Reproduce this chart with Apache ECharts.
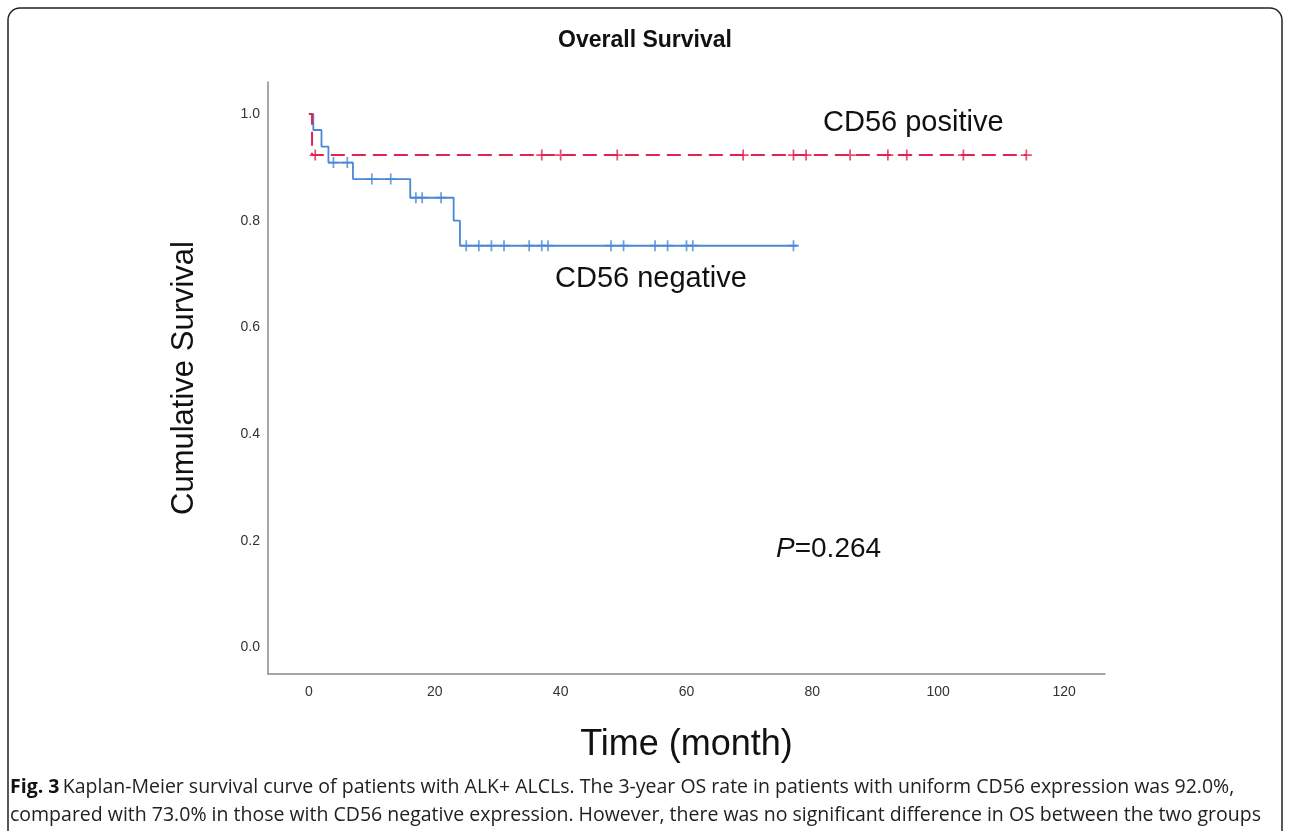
<!DOCTYPE html>
<html>
<head>
<meta charset="utf-8">
<script src="https://cdn.jsdelivr.net/npm/echarts@6/dist/echarts.min.js"></script>
<style>
html,body{margin:0;padding:0;background:#fff;}
#chart{width:1290px;height:831px;}
</style>
</head>
<body>
<div id="chart"></div>
<script>
// ---- data ----
const xTicks = [0, 20, 40, 60, 80, 100, 120];
const yTicks = [0.0, 0.2, 0.4, 0.6, 0.8, 1.0];

// CD56 negative (blue): KM step points (time in months, cumulative survival)
const negTimes = [0, 0.7, 2.0, 3.1, 7.0, 16.1, 23.0, 24.0, 77.6];
const negSurv  = [1.0, 0.970, 0.939, 0.909, 0.878, 0.843, 0.800, 0.753, 0.753];
const negCensor = [3.9, 6.1, 10, 13, 17, 18, 21, 25, 27, 29, 31, 35, 37, 38, 48, 50, 55, 57, 60, 61, 77];

// CD56 positive (red)
const posTimes = [0, 0.5, 114];
const posSurv  = [1.0, 0.923, 0.923];
const posCensor = [1, 37, 40, 49, 69, 77, 79, 86, 92, 95, 104, 114];

const pValue = '0.264';

// ---- build series ----
function pairs(t, s) { return t.map((v, i) => [v, s[i]]); }
function survAt(t, times, surv) {
  let v = surv[0];
  for (let i = 0; i < times.length; i++) { if (times[i] <= t) v = surv[i]; }
  return v;
}
const negCensorPts = negCensor.map(t => [t, survAt(t, negTimes, negSurv)]);
const posCensorPts = posCensor.map(t => [t, survAt(t, posTimes, posSurv)]);

const BLUE = '#4a88d6';
const RED = '#e0234f';
const FONT = 'Liberation Sans, Arial, sans-serif';
const plus = 'path://M4.2,0h1.6v4.2h4.2v1.6h-4.2v4.2h-1.6v-4.2h-4.2v-1.6h4.2z';

const chart = echarts.init(document.getElementById('chart'), null, {renderer: 'canvas'});
chart.setOption({
  backgroundColor: '#fff',
  animation: false,
  textStyle: {fontFamily: FONT},
  title: {
    text: 'Overall Survival',
    left: 'center',
    top: 24,
    textStyle: {fontSize: 23, fontWeight: 'bold', color: '#111', fontFamily: FONT}
  },
  grid: {left: 268, right: 185, top: 82, bottom: 157, containLabel: false},
  xAxis: {
    type: 'value', min: -6.5, max: 126.5,
    name: 'Time (month)', nameLocation: 'middle', nameGap: 53,
    nameTextStyle: {fontSize: 36, color: '#111'},
    axisLine: {show: true, onZero: false, lineStyle: {color: '#8a8a8a', width: 1.5}},
    axisTick: {show: false},
    splitLine: {show: false},
    axisLabel: {customValues: xTicks, fontSize: 14, color: '#333', margin: 11}
  },
  yAxis: {
    type: 'value', min: -0.05, max: 1.06,
    name: 'Cumulative Survival', nameLocation: 'middle', nameGap: 68, nameRotate: 90,
    nameTextStyle: {fontSize: 31, color: '#111'},
    axisLine: {show: true, onZero: false, lineStyle: {color: '#8a8a8a', width: 1.5}},
    axisTick: {show: false},
    splitLine: {show: false},
    axisLabel: {customValues: yTicks, fontSize: 14, color: '#333', margin: 8,
      formatter: v => Number(v).toFixed(1)}
  },
  series: [
    {
      name: 'CD56 negative', type: 'line', step: 'end', data: pairs(negTimes, negSurv),
      symbol: 'none', lineStyle: {color: BLUE, width: 1.8}, z: 2
    },
    {
      name: 'CD56 negative censored', type: 'scatter', data: negCensorPts,
      symbol: plus, symbolSize: 11, itemStyle: {color: BLUE}, z: 3
    },
    {
      name: 'CD56 positive', type: 'line', step: 'end', data: pairs(posTimes, posSurv),
      symbol: 'none', lineStyle: {color: RED, width: 2, type: [14, 7]}, z: 4
    },
    {
      name: 'CD56 positive censored', type: 'scatter', data: posCensorPts,
      symbol: plus, symbolSize: 11, itemStyle: {color: RED}, z: 5
    }
  ],
  graphic: [
    {type: 'rect', shape: {x: 8, y: 8, width: 1274, height: 860, r: 12},
     style: {fill: 'none', stroke: '#222', lineWidth: 1.5}, silent: true, z: 0},
    {type: 'text', left: 823, top: 108,
     style: {text: 'CD56 positive', fontSize: 29, fill: '#111', fontFamily: FONT}},
    {type: 'text', left: 555, top: 264,
     style: {text: 'CD56 negative', fontSize: 29, fill: '#111', fontFamily: FONT}},
    {type: 'text', left: 776, top: 535,
     style: {
       text: '{i|P}{n|=' + pValue + '}',
       rich: {
         i: {fontSize: 28, fontStyle: 'italic', fill: '#111', fontFamily: FONT},
         n: {fontSize: 28, fill: '#111', fontFamily: FONT}
       }
     }},
    {type: 'text', left: 10, top: 773,
     style: {
       text: '{b|Fig. 3} {r|Kaplan-Meier survival curve of patients with ALK+ ALCLs. The 3-year OS rate in patients with uniform CD56 expression was 92.0%,}\n{r|compared with 73.0% in those with CD56 negative expression. However, there was no significant difference in OS between the two groups}',
       lineHeight: 28,
       rich: {
         b: {fontSize: 19.5, fontWeight: 'bold', fill: '#111', fontFamily: 'Open Sans, sans-serif', lineHeight: 28},
         r: {fontSize: 19.5, fill: '#222', fontFamily: 'Open Sans, sans-serif', lineHeight: 28}
       }
     }}
  ]
});
</script>
</body>
</html>
